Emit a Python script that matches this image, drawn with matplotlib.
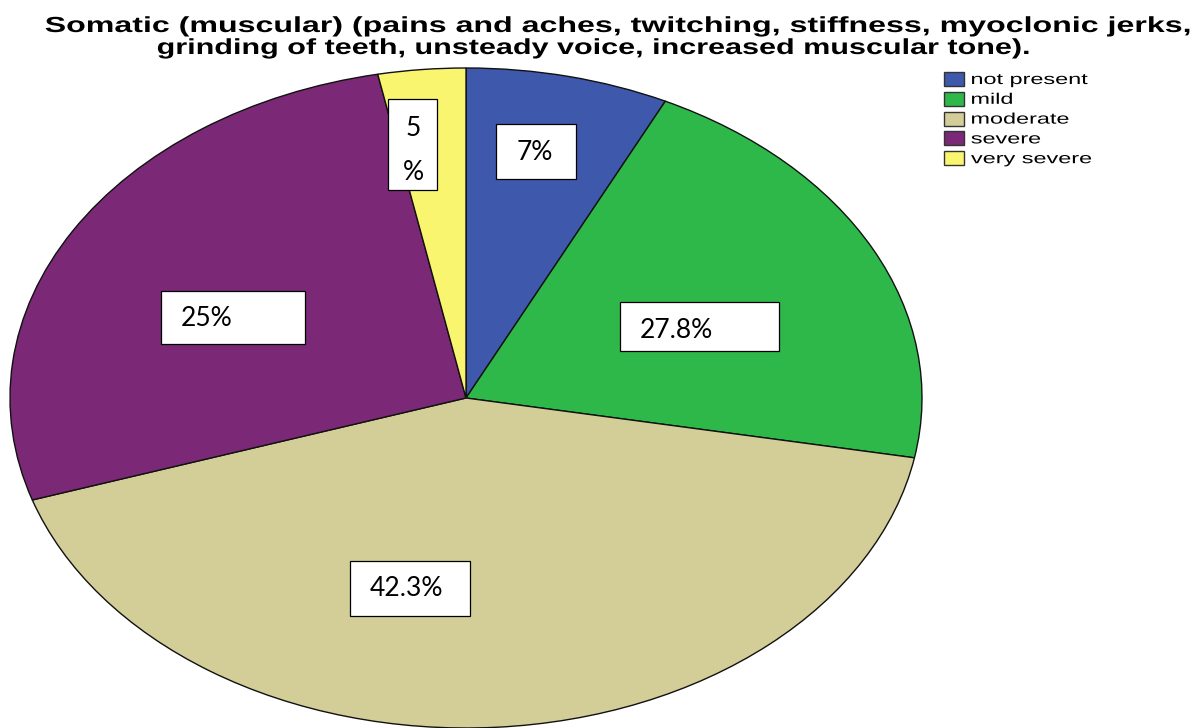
import matplotlib
matplotlib.use("Agg")
import matplotlib.pyplot as plt
from matplotlib.patches import Rectangle
from matplotlib.patheffects import AbstractPathEffect
from matplotlib.transforms import Affine2D

# slice shares as drawn in the picture (clockwise from the top)
categories = ["not present", "mild", "moderate", "severe", "very severe"]
shares = [7.2, 20.7, 42.1, 26.9, 3.1]
colors = ["#3e58ab", "#2eb84a", "#d3ce97", "#7b2877", "#f9f56f"]
# the percentage texts typed into the boxes of the original
box_texts = ["7%", "27.8%", "42.3%", "25%", "5\n%"]

title1 = "Somatic (muscular) (pains and aches, twitching, stiffness, myoclonic jerks,"
title2 = "grinding of teeth, unsteady voice, increased muscular tone)."


class StretchX(AbstractPathEffect):
    """widen text horizontally from its left edge (the original is stretched)"""
    def __init__(self, sx):
        super().__init__()
        self.sx = sx

    def draw_path(self, renderer, gc, tpath, affine, rgbFace=None):
        x0 = tpath.get_extents(affine).x0
        st = Affine2D().translate(-x0, 0).scale(self.sx, 1).translate(x0, 0)
        renderer.draw_path(gc, tpath, affine + st, rgbFace)


W, H = 1201, 728
fig = plt.figure(figsize=(W / 100, H / 100), dpi=100)

# pie axes: the pie is stretched into an ellipse
cx, cy, rx, ry = 466, 398, 456, 330
ax = fig.add_axes([0, 0, 1, 1])
wedges, _ = ax.pie(shares, colors=colors, startangle=90, counterclock=False,
                   wedgeprops=dict(edgecolor="#111111", linewidth=1.0))
ax.set_aspect("auto")
ax.set_xlim(-cx / rx, (W - cx) / rx)
ax.set_ylim((cy - H) / ry, cy / ry)
ax.axis("off")

# overlay in pixel coordinates for the boxes and the text
ov = fig.add_axes([0, 0, 1, 1])
ov.set_xlim(0, W)
ov.set_ylim(H, 0)
ov.axis("off")
ov.patch.set_alpha(0)

# (x0, y0, x1, y1) of each box, text x, text y, alignment
boxes = [
    ((496, 124, 576, 179), 535, 153, "center"),
    ((620, 302, 779, 351), 640, 330, "left"),
    ((350, 561, 470, 616), 370, 589, "left"),
    ((161, 291, 305, 344), 181, 318, "left"),
    ((388, 99, 437, 190), 413, 150, "center"),
]
for txt, (b, tx, ty, ha) in zip(box_texts, boxes):
    x0, y0, x1, y1 = b
    ov.add_patch(Rectangle((x0, y0), x1 - x0, y1 - y0, facecolor="white",
                           edgecolor="black", linewidth=0.9))
    ov.text(tx, ty, txt, ha=ha, va="center", fontsize=19, family="Lato",
            color="black", linespacing=1.95)

# title, two lines, stretched to the widths of the original
t1 = ov.text(45, 32, title1, ha="left", va="baseline", fontsize=15.7,
             fontweight="bold", family="Liberation Sans")
t2 = ov.text(157, 54, title2, ha="left", va="baseline", fontsize=15.7,
             fontweight="bold", family="Liberation Sans")

# legend
leg_texts = []
for i, (lab, c) in enumerate(zip(categories, colors)):
    yc = 79 + i * 19.8
    ov.add_patch(Rectangle((944, yc - 7), 20, 14, facecolor=c,
                           edgecolor="#333333", linewidth=1.0))
    leg_texts.append(ov.text(971, yc + 1, lab, ha="left", va="center",
                             fontsize=11, family="Liberation Sans"))

fig.canvas.draw()
r = fig.canvas.get_renderer()
for t, target in [(t1, 1146), (t2, 873)]:
    w = t.get_window_extent(r).width
    t.set_path_effects([StretchX(target / w)])
w = leg_texts[-1].get_window_extent(r).width
for t in leg_texts:
    t.set_path_effects([StretchX(121 / w)])

fig.savefig("out.png", dpi=100)
